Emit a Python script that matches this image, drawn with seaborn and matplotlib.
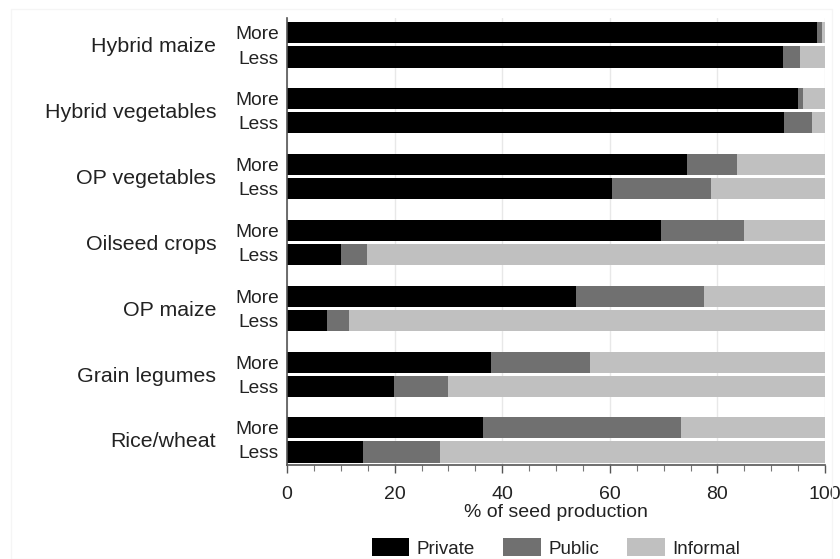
import numpy as np
import pandas as pd
import matplotlib
matplotlib.use("Agg")
import matplotlib.pyplot as plt
import matplotlib.patches as patches
from matplotlib.ticker import MultipleLocator
import seaborn as sns

# 데이터 (그림에서 읽은 값, %)
crops = ["Hybrid maize", "Hybrid vegetables", "OP vegetables", "Oilseed crops",
         "OP maize", "Grain legumes", "Rice/wheat"]
levels = ["More", "Less"]
private_more = [98.5, 95.0, 74.3, 69.6, 53.7, 38.0, 36.4]
public_more = [1.0, 1.0, 9.4, 15.4, 23.9, 18.3, 36.8]
informal_more = [0.5, 4.0, 16.3, 15.0, 22.4, 43.7, 26.8]
private_less = [92.2, 92.4, 60.5, 10.0, 7.5, 19.9, 14.2]
public_less = [3.2, 5.1, 18.4, 4.9, 4.0, 10.0, 14.3]
informal_less = [4.6, 2.5, 21.1, 85.1, 88.5, 70.1, 71.5]
sources = ["Private", "Public", "Informal"]
colors = {"Private": "#000000", "Public": "#707070", "Informal": "#c0c0c0"}

df = pd.DataFrame({
    "crop": crops * 2,
    "level": ["More"] * len(crops) + ["Less"] * len(crops),
    "Private": private_more + private_less,
    "Public": public_more + public_less,
    "Informal": informal_more + informal_less,
})
# 누적값 (stacked bar)
df["cum_private"] = df["Private"]
df["cum_public"] = df["Private"] + df["Public"]
df["cum_informal"] = df["Private"] + df["Public"] + df["Informal"]

sns.set_style("white")
plt.rcParams['font.family'] = ['Liberation Sans', 'DejaVu Sans']

fig = plt.figure(figsize=(8.4, 5.59), dpi=100)
ax = fig.add_axes([287 / 840, 1 - 465 / 559, (825 - 287) / 840, (465 - 18) / 559])

# 뒤에서부터 그리기: Informal -> Public -> Private
for col, src in [("cum_informal", "Informal"), ("cum_public", "Public"), ("cum_private", "Private")]:
    sns.barplot(data=df, y="crop", x=col, hue="level", hue_order=levels, order=crops,
                palette={lv: colors[src] for lv in levels}, dodge=True, width=0.73,
                gap=0.125, errorbar=None, legend=False, linewidth=0, ax=ax)

ax.set_xlim(0, 100)
ax.set_ylim(6.38, -0.41)

# y축 라벨: 작물(주) + More/Less(보조)
ax.set_yticks(range(len(crops)), crops)
off = 0.73 / 4
minor_pos = []
minor_lab = []
for i in range(len(crops)):
    minor_pos += [i - off, i + off]
    minor_lab += levels
ax.set_yticks(minor_pos, minor_lab, minor=True)
ax.tick_params(axis='y', which='major', length=0, pad=51, labelsize=15.4, colors='#222222')
ax.tick_params(axis='y', which='minor', length=0, pad=6, labelsize=13.8, labelcolor='#222222')

# x축 (눈금 표시)
ax.set_xticks(np.arange(0, 101, 20))
ax.xaxis.set_minor_locator(MultipleLocator(5))
ax.tick_params(axis='x', which='both', bottom=True)
ax.tick_params(axis='x', which='major', direction='out', length=6, width=1, color='#555555',
               labelsize=14, labelcolor='#222222', pad=9)
ax.tick_params(axis='x', which='minor', direction='out', length=4, width=0.8, color='#777777')
ax.set_xlabel('% of seed production', fontsize=14, color='#222222', labelpad=1)
ax.set_ylabel('')

# 그리드와 축
ax.grid(axis='x', which='major', color='#e8e8e8', linewidth=1)
ax.set_axisbelow(True)
sns.despine(ax=ax, top=True, right=True)
for s in ["left", "bottom"]:
    ax.spines[s].set_color('#555555')
    ax.spines[s].set_linewidth(1.2)

# 범례
handles = [patches.Patch(facecolor=colors[s], edgecolor='none', label=s) for s in sources]
fig.legend(handles=handles, loc='center', bbox_to_anchor=(556 / 840, 1 - 548 / 559), ncol=3,
           frameon=False, fontsize=13.5, handlelength=2.0, handleheight=1.05,
           handletextpad=0.4, columnspacing=1.5, labelcolor='#222222')

# 바깥 테두리
fig.patches.append(patches.Rectangle((11 / 840, 0), (832 - 11) / 840, 1 - 9 / 559,
                                     transform=fig.transFigure, fill=False,
                                     edgecolor='#f5f5f5', linewidth=1))

fig.savefig("out.png", dpi=100)
